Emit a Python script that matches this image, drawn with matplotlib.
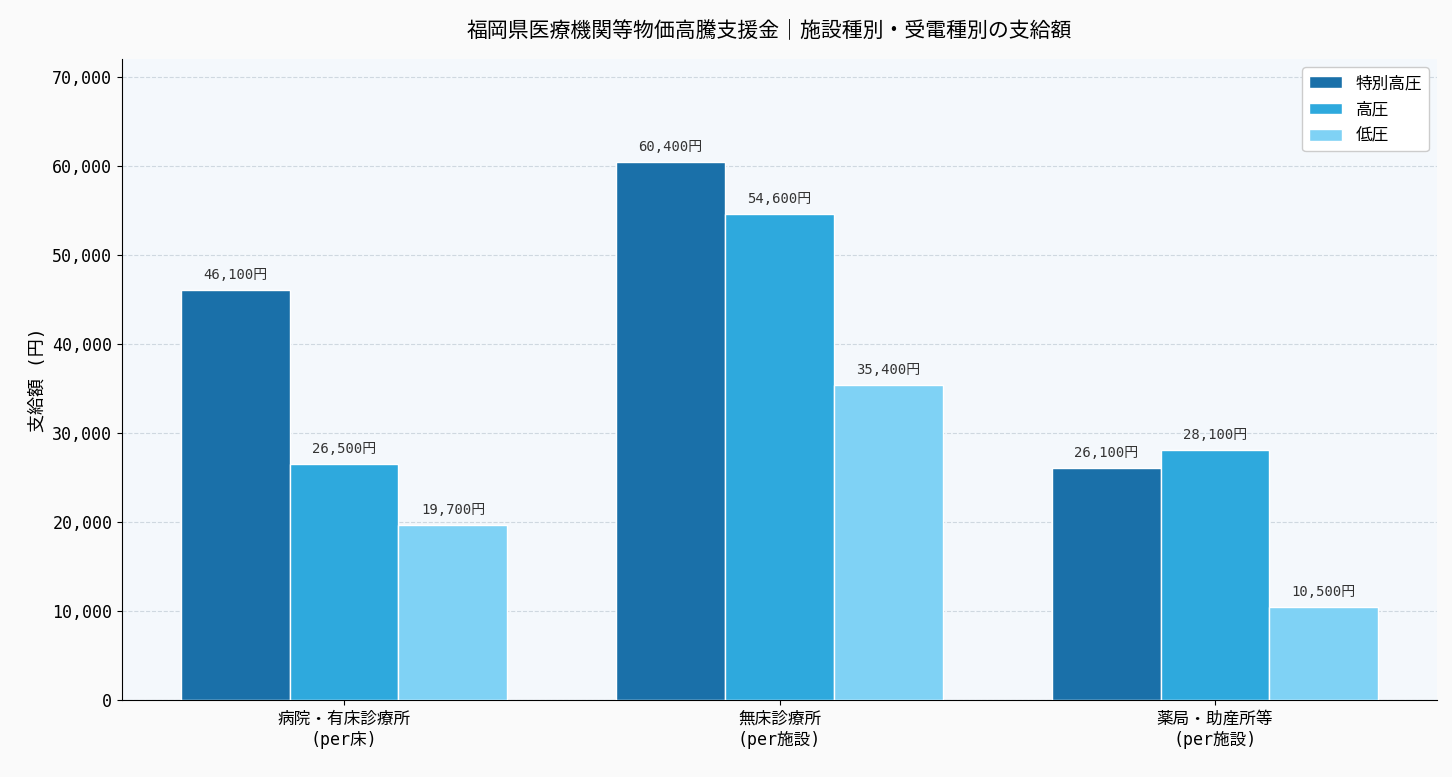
import matplotlib
matplotlib.use("Agg")
import matplotlib.pyplot as plt
import numpy as np

plt.rcParams['font.family'] = ['DejaVu Sans Mono', 'Noto Sans CJK JP']

categories = ["病院・有床診療所\n(per床)", "無床診療所\n(per施設)", "薬局・助産所等\n(per施設)"]
series = ["特別高圧", "高圧", "低圧"]
values = {
    "特別高圧": [46100, 60400, 26100],
    "高圧": [26500, 54600, 28100],
    "低圧": [19700, 35400, 10500],
}
colors = ["#1a70a9", "#2ea9dd", "#7fd2f5"]

fig = plt.figure(figsize=(14.52, 7.77), dpi=100, facecolor="#fafafa")
ax = fig.add_axes([122/1452, 77/777, (1437-122)/1452, (709-68)/777])
ax.set_facecolor("#f4f8fc")
x = np.arange(len(categories))
w = 0.25
for i, s in enumerate(series):
    bars = ax.bar(x + (i-1)*w, values[s], w, color=colors[i], edgecolor="white", linewidth=1, label=s, zorder=3)
    for b, v in zip(bars, values[s]):
        ax.text(b.get_x()+b.get_width()/2, v+900, f"{v:,}円", ha="center", va="bottom", fontsize=10, color="#333333")

ax.set_xlim(-0.51, 2.51)
ax.set_ylim(0, 72000)
ax.set_yticks(range(0, 70001, 10000))
ax.yaxis.set_major_formatter(matplotlib.ticker.FuncFormatter(lambda v, p: f"{int(v):,}"))
ax.set_xticks(x)
ax.set_xticklabels(categories, fontsize=12)
ax.tick_params(axis='y', labelsize=12)
ax.grid(axis='y', linestyle='--', color='#cfd8e0', zorder=0)
ax.spines['top'].set_visible(False)
ax.spines['right'].set_visible(False)
ax.set_ylabel("支給額 (円)", fontsize=13)
ax.legend(loc="upper right", fontsize=12, framealpha=1)
fig.text(0.53, 0.962, "福岡県医療機関等物価高騰支援金｜施設種別・受電種別の支給額", ha="center", va="center", fontsize=15)
fig.savefig("out.png", dpi=100, facecolor=fig.get_facecolor())
